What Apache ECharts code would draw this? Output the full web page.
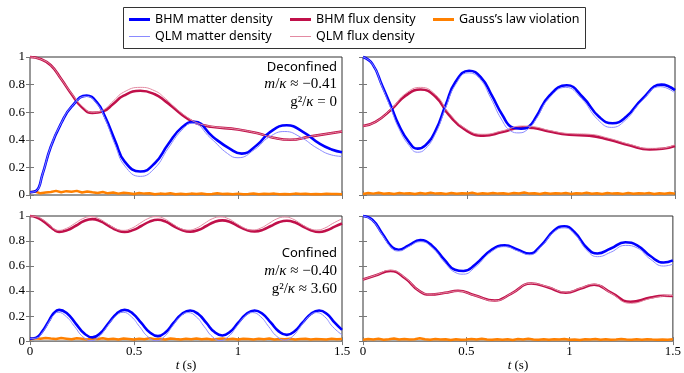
<!DOCTYPE html>
<html>
<head>
<meta charset="utf-8">
<script src="https://cdn.jsdelivr.net/npm/echarts@6/dist/echarts.min.js"></script>
<style>
  html, body { margin: 0; background: #fff; }
  #chart { width: 684px; height: 373px; }
</style>
</head>
<body>
<div id="chart"></div>
<script>
// density curves as [t (s), value] read at extrema and in between
// top left: deconfined, start from vacuum
const tlBhmMatter = [[0, 0.02], [0.03, 0.03], [0.06, 0.15], [0.1, 0.35], [0.15, 0.52], [0.2, 0.64], [0.272, 0.72],
  [0.32, 0.675], [0.36, 0.57], [0.41, 0.39], [0.456, 0.24], [0.53, 0.17], [0.6, 0.23], [0.665, 0.37], [0.73, 0.49],
  [0.79, 0.53], [0.88, 0.42], [0.96, 0.336], [1.018, 0.3], [1.09, 0.36], [1.154, 0.456], [1.234, 0.505],
  [1.314, 0.456], [1.394, 0.37], [1.45, 0.33], [1.5, 0.31]]
const tlQlmMatter = [[0, 0.02], [0.03, 0.03], [0.06, 0.15], [0.1, 0.35], [0.15, 0.52], [0.2, 0.64], [0.27, 0.715],
  [0.32, 0.665], [0.36, 0.555], [0.41, 0.36], [0.456, 0.21], [0.53, 0.135], [0.6, 0.195], [0.665, 0.34], [0.73, 0.47],
  [0.78, 0.52], [0.87, 0.41], [0.95, 0.3], [1.0, 0.27], [1.08, 0.33], [1.15, 0.42], [1.225, 0.46], [1.3, 0.42],
  [1.38, 0.34], [1.45, 0.29], [1.5, 0.28]]
const tlBhmFlux = [[0, 1.0], [0.05, 0.985], [0.1, 0.94], [0.15, 0.84], [0.2, 0.73], [0.25, 0.635], [0.3, 0.595],
  [0.35, 0.605], [0.4, 0.66], [0.45, 0.72], [0.53, 0.755], [0.6, 0.73], [0.65, 0.68], [0.7, 0.62], [0.75, 0.56],
  [0.8, 0.52], [0.87, 0.495], [1.0, 0.475], [1.1, 0.445], [1.17, 0.415], [1.25, 0.4], [1.35, 0.425], [1.5, 0.46]]
const tlQlmFlux = [[0, 1.0], [0.05, 0.985], [0.1, 0.94], [0.15, 0.84], [0.2, 0.735], [0.25, 0.645], [0.3, 0.6],
  [0.35, 0.615], [0.4, 0.68], [0.45, 0.745], [0.53, 0.78], [0.6, 0.755], [0.65, 0.7], [0.7, 0.63], [0.75, 0.57],
  [0.8, 0.525], [0.87, 0.498], [1.0, 0.475], [1.1, 0.445], [1.17, 0.415], [1.25, 0.4], [1.35, 0.425], [1.5, 0.46]]

// top right: deconfined, start from charge-proliferated state
const trBhmMatter = [[0, 1.0], [0.045, 0.95], [0.093, 0.79], [0.133, 0.65], [0.173, 0.505], [0.221, 0.384],
  [0.262, 0.336], [0.3, 0.36], [0.35, 0.47], [0.397, 0.65], [0.445, 0.82], [0.51, 0.9], [0.566, 0.855], [0.62, 0.72],
  [0.67, 0.58], [0.718, 0.49], [0.76, 0.48], [0.8, 0.5], [0.832, 0.565], [0.896, 0.72], [0.98, 0.795],
  [1.056, 0.71], [1.136, 0.565], [1.2, 0.52], [1.264, 0.565], [1.345, 0.7], [1.435, 0.8], [1.5, 0.76]]
const trQlmMatter = [[0, 1.0], [0.045, 0.95], [0.093, 0.78], [0.133, 0.63], [0.173, 0.48], [0.221, 0.36],
  [0.262, 0.31], [0.3, 0.335], [0.35, 0.45], [0.397, 0.63], [0.445, 0.8], [0.505, 0.885], [0.56, 0.845], [0.615, 0.7],
  [0.665, 0.55], [0.71, 0.465], [0.75, 0.45], [0.795, 0.48], [0.83, 0.545], [0.894, 0.7], [0.975, 0.78],
  [1.05, 0.7], [1.13, 0.545], [1.195, 0.49], [1.26, 0.54], [1.34, 0.68], [1.43, 0.785], [1.5, 0.74]]
const trBhmFlux = [[0, 0.5], [0.06, 0.53], [0.14, 0.625], [0.205, 0.72], [0.277, 0.765], [0.35, 0.71], [0.413, 0.58],
  [0.494, 0.47], [0.58, 0.43], [0.67, 0.456], [0.766, 0.49], [0.82, 0.485], [0.896, 0.46], [0.992, 0.437],
  [1.088, 0.43], [1.184, 0.4], [1.28, 0.36], [1.377, 0.33], [1.44, 0.335], [1.5, 0.355]]
const trQlmFlux = [[0, 0.5], [0.06, 0.53], [0.14, 0.63], [0.205, 0.735], [0.277, 0.78], [0.35, 0.725], [0.413, 0.595],
  [0.494, 0.48], [0.58, 0.44], [0.67, 0.465], [0.766, 0.5], [0.82, 0.495], [0.896, 0.468], [0.992, 0.445],
  [1.088, 0.44], [1.184, 0.41], [1.28, 0.368], [1.377, 0.338], [1.44, 0.34], [1.5, 0.365]]

// bottom left: confined, start from vacuum
const blBhmMatter = [[0, 0.02], [0.03, 0.028], [0.06, 0.08], [0.09, 0.16], [0.115, 0.225], [0.14, 0.25],
  [0.18, 0.218], [0.22, 0.14], [0.26, 0.062], [0.3, 0.03], [0.339, 0.064], [0.378, 0.145], [0.4165, 0.219],
  [0.455, 0.25], [0.495, 0.219], [0.535, 0.145], [0.575, 0.071], [0.615, 0.04], [0.652, 0.071], [0.69, 0.145],
  [0.73, 0.216], [0.77, 0.245], [0.809, 0.216], [0.848, 0.145], [0.886, 0.074], [0.925, 0.045], [0.962, 0.074],
  [1.0, 0.145], [1.04, 0.216], [1.08, 0.245], [1.119, 0.216], [1.158, 0.147], [1.196, 0.078], [1.235, 0.05],
  [1.272, 0.078], [1.31, 0.147], [1.35, 0.217], [1.39, 0.245], [1.428, 0.217], [1.465, 0.147], [1.5, 0.09]]
const blQlmMatter = [[0, 0.02], [0.03, 0.024], [0.06, 0.07], [0.09, 0.15], [0.113, 0.205], [0.135, 0.23],
  [0.175, 0.195], [0.215, 0.115], [0.254, 0.035], [0.293, 0.003], [0.3315, 0.035], [0.37, 0.115], [0.409, 0.195],
  [0.448, 0.23], [0.4875, 0.195], [0.527, 0.115], [0.567, 0.035], [0.607, 0.003], [0.645, 0.035], [0.683, 0.115],
  [0.7215, 0.195], [0.76, 0.228], [0.799, 0.195], [0.838, 0.115], [0.8765, 0.036], [0.915, 0.005], [0.954, 0.036],
  [0.993, 0.115], [1.0315, 0.195], [1.07, 0.228], [1.109, 0.195], [1.148, 0.115], [1.1865, 0.038], [1.225, 0.008],
  [1.2625, 0.038], [1.3, 0.115], [1.339, 0.195], [1.378, 0.228], [1.4165, 0.195], [1.455, 0.115], [1.5, 0.05]]
const blBhmFlux = [[0, 1.0], [0.03, 0.99], [0.06, 0.963], [0.09, 0.925], [0.115, 0.89], [0.14, 0.873], [0.18, 0.887],
  [0.22, 0.922], [0.26, 0.96], [0.3, 0.975], [0.339, 0.957], [0.378, 0.922], [0.4165, 0.887], [0.455, 0.872],
  [0.495, 0.887], [0.535, 0.92], [0.575, 0.955], [0.615, 0.97], [0.652, 0.955], [0.69, 0.92], [0.73, 0.888],
  [0.77, 0.875], [0.809, 0.888], [0.848, 0.92], [0.886, 0.952], [0.925, 0.965], [0.962, 0.952], [1.0, 0.92],
  [1.04, 0.889], [1.08, 0.877], [1.119, 0.889], [1.158, 0.92], [1.196, 0.95], [1.235, 0.962], [1.272, 0.95],
  [1.31, 0.918], [1.35, 0.886], [1.39, 0.872], [1.428, 0.886], [1.465, 0.915], [1.5, 0.94]]
const blQlmFlux = [[0, 1.0], [0.03, 0.995], [0.06, 0.972], [0.09, 0.935], [0.113, 0.9], [0.135, 0.885],
  [0.175, 0.901], [0.215, 0.94], [0.254, 0.979], [0.293, 0.995], [0.3315, 0.979], [0.37, 0.94], [0.409, 0.901],
  [0.448, 0.885], [0.4875, 0.901], [0.527, 0.94], [0.567, 0.979], [0.607, 0.995], [0.645, 0.979], [0.683, 0.94],
  [0.7215, 0.902], [0.76, 0.887], [0.799, 0.902], [0.838, 0.94], [0.8765, 0.978], [0.915, 0.993], [0.954, 0.978],
  [0.993, 0.94], [1.0315, 0.903], [1.07, 0.888], [1.109, 0.903], [1.148, 0.94], [1.1865, 0.977], [1.225, 0.992],
  [1.2625, 0.977], [1.3, 0.94], [1.339, 0.903], [1.378, 0.888], [1.4165, 0.903], [1.455, 0.94], [1.5, 0.978]]

// bottom right: confined, start from charge-proliferated state
const brBhmMatter = [[0, 1.0], [0.045, 0.97], [0.093, 0.86], [0.141, 0.75], [0.173, 0.73], [0.221, 0.765],
  [0.277, 0.807], [0.333, 0.765], [0.397, 0.645], [0.445, 0.57], [0.486, 0.56], [0.542, 0.61], [0.622, 0.73],
  [0.686, 0.765], [0.75, 0.73], [0.806, 0.7], [0.862, 0.765], [0.926, 0.886], [0.974, 0.918], [1.022, 0.874],
  [1.087, 0.74], [1.135, 0.7], [1.199, 0.74], [1.27, 0.79], [1.327, 0.766], [1.391, 0.68], [1.455, 0.628], [1.5, 0.645]]
const brQlmMatter = [[0, 1.0], [0.045, 0.965], [0.093, 0.85], [0.141, 0.74], [0.173, 0.72], [0.221, 0.755],
  [0.277, 0.795], [0.333, 0.75], [0.397, 0.625], [0.445, 0.55], [0.486, 0.535], [0.542, 0.59], [0.622, 0.715],
  [0.686, 0.755], [0.75, 0.72], [0.806, 0.69], [0.862, 0.755], [0.926, 0.875], [0.974, 0.905], [1.022, 0.86],
  [1.087, 0.72], [1.135, 0.675], [1.199, 0.71], [1.27, 0.765], [1.327, 0.745], [1.391, 0.655], [1.455, 0.6], [1.5, 0.615]]
const brBhmFlux = [[0, 0.493], [0.06, 0.524], [0.133, 0.56], [0.205, 0.5], [0.27, 0.403], [0.325, 0.372],
  [0.397, 0.386], [0.46, 0.403], [0.54, 0.367], [0.638, 0.324], [0.718, 0.38], [0.814, 0.46], [0.894, 0.43],
  [0.982, 0.386], [1.054, 0.42], [1.119, 0.45], [1.199, 0.39], [1.295, 0.314], [1.391, 0.348], [1.455, 0.362], [1.5, 0.36]]
const brQlmFlux = [[0, 0.493], [0.06, 0.526], [0.133, 0.567], [0.205, 0.505], [0.27, 0.405], [0.325, 0.375],
  [0.397, 0.386], [0.46, 0.4], [0.54, 0.365], [0.638, 0.322], [0.718, 0.38], [0.814, 0.462], [0.894, 0.435],
  [0.982, 0.392], [1.054, 0.425], [1.119, 0.455], [1.199, 0.385], [1.295, 0.302], [1.391, 0.34], [1.455, 0.36], [1.5, 0.365]]

// Gauss's law violation on a finer grid (noisy, close to zero)
const gaussTime = [0, 0.025, 0.05, 0.075, 0.1, 0.125, 0.15, 0.175, 0.2, 0.225, 0.25, 0.275, 0.3, 0.325,
  0.35, 0.375, 0.4, 0.425, 0.45, 0.475, 0.5, 0.525, 0.55, 0.575, 0.6, 0.625, 0.65, 0.675, 0.7, 0.725,
  0.75, 0.775, 0.8, 0.825, 0.85, 0.875, 0.9, 0.925, 0.95, 0.975, 1, 1.025, 1.05, 1.075, 1.1, 1.125,
  1.15, 1.175, 1.2, 1.225, 1.25, 1.275, 1.3, 1.325, 1.35, 1.375, 1.4, 1.425, 1.45, 1.475, 1.5]
const tlGauss = [0.020, 0.025, 0.012, 0.018, 0.022, 0.030, 0.020, 0.028, 0.024, 0.030,
  0.018, 0.026, 0.020, 0.015, 0.022, 0.012, 0.018, 0.010, 0.016, 0.012,
  0.008, 0.014, 0.010, 0.012, 0.006, 0.010, 0.008, 0.012, 0.006, 0.009,
  0.005, 0.010, 0.007, 0.011, 0.006, 0.008, 0.012, 0.007, 0.009, 0.005,
  0.010, 0.006, 0.008, 0.011, 0.006, 0.009, 0.007, 0.010, 0.005, 0.008,
  0.006, 0.010, 0.007, 0.009, 0.005, 0.008, 0.006, 0.009, 0.007, 0.008, 0.006]
const trGauss = [0.008, 0.014, 0.010, 0.016, 0.009, 0.013, 0.008, 0.015, 0.010, 0.012,
  0.008, 0.014, 0.009, 0.016, 0.010, 0.012, 0.008, 0.015, 0.009, 0.013,
  0.010, 0.016, 0.008, 0.012, 0.009, 0.014, 0.010, 0.013, 0.008, 0.015,
  0.011, 0.018, 0.010, 0.013, 0.008, 0.014, 0.009, 0.012, 0.010, 0.015,
  0.008, 0.013, 0.010, 0.016, 0.009, 0.012, 0.008, 0.014, 0.010, 0.013,
  0.008, 0.015, 0.009, 0.012, 0.010, 0.014, 0.008, 0.013, 0.009, 0.015, 0.010]
const blGauss = [0.015, 0.022, 0.018, 0.025, 0.020, 0.016, 0.024, 0.019, 0.014, 0.022,
  0.018, 0.012, 0.020, 0.016, 0.023, 0.015, 0.019, 0.013, 0.021, 0.017,
  0.012, 0.019, 0.015, 0.022, 0.014, 0.018, 0.012, 0.020, 0.016, 0.013,
  0.019, 0.015, 0.021, 0.014, 0.018, 0.012, 0.017, 0.020, 0.014, 0.018,
  0.013, 0.019, 0.016, 0.012, 0.018, 0.015, 0.020, 0.013, 0.017, 0.014,
  0.019, 0.012, 0.016, 0.018, 0.013, 0.017, 0.015, 0.012, 0.018, 0.014, 0.016]
const brGauss = [0.010, 0.016, 0.012, 0.018, 0.011, 0.014, 0.020, 0.013, 0.017, 0.012,
  0.015, 0.022, 0.014, 0.010, 0.016, 0.012, 0.014, 0.009, 0.015, 0.011,
  0.013, 0.017, 0.012, 0.019, 0.013, 0.010, 0.015, 0.011, 0.014, 0.009,
  0.016, 0.012, 0.018, 0.013, 0.011, 0.015, 0.010, 0.014, 0.012, 0.016,
  0.011, 0.013, 0.009, 0.015, 0.012, 0.017, 0.010, 0.014, 0.011, 0.013,
  0.016, 0.012, 0.010, 0.014, 0.011, 0.015, 0.012, 0.010, 0.013, 0.011, 0.014]

const xTicks = [0, 0.5, 1, 1.5]
const yTicks = [0, 0.2, 0.4, 0.6, 0.8, 1]

const NAMES = {
  bm: 'BHM matter density',
  bf: 'BHM flux density',
  gs: 'Gauss\u2019s law violation',
  qm: 'QLM matter density',
  qf: 'QLM flux density',
}
const COLORS = {
  bm: '#0000ff',
  bf: '#c0104a',
  gs: '#ff8000',
  qm: '#8a8aff',
  qf: '#e38aa2',
}

const panels = [
  { left: 30, top: 57, showX: false, showY: true,
    bm: tlBhmMatter, qm: tlQlmMatter, bf: tlBhmFlux, qf: tlQlmFlux, gs: tlGauss },
  { left: 363, top: 57, showX: false, showY: false,
    bm: trBhmMatter, qm: trQlmMatter, bf: trBhmFlux, qf: trQlmFlux, gs: trGauss },
  { left: 30, top: 216, showX: true, showY: true,
    bm: blBhmMatter, qm: blQlmMatter, bf: blBhmFlux, qf: blQlmFlux, gs: blGauss },
  { left: 363, top: 216, showX: true, showY: false,
    bm: brBhmMatter, qm: brQlmMatter, bf: brBhmFlux, qf: brQlmFlux, gs: brGauss },
]

const serif = '"Liberation Serif", "DejaVu Serif", serif'
const sans = '"Noto Sans", "Open Sans", sans-serif'
const tick = { inside: true, length: 4, lineStyle: { color: '#777' } }

const grids = [], xAxes = [], yAxes = [], series = []
panels.forEach((p, g) => {
  grids.push({ left: p.left, top: p.top, width: 312, height: 138, show: true,
    borderColor: '#333', borderWidth: 1, backgroundColor: 'transparent' })
  // bottom axis + mirrored top axis (ticks only)
  for (const pos of ['bottom', 'top']) {
    const main = pos === 'bottom'
    xAxes.push({
      type: 'value', gridIndex: g, position: pos,
      min: xTicks[0], max: xTicks[xTicks.length - 1], interval: 0.5,
      axisLine: { show: false }, axisTick: tick, splitLine: { show: false },
      axisLabel: { show: main && p.showX, margin: 4, fontFamily: serif, fontSize: 13, color: '#000' },
      name: main && p.showX ? '{i|t} (s)' : '',
      nameLocation: 'middle', nameGap: 4,
      nameTextStyle: { fontFamily: serif, fontSize: 13, color: '#000', verticalAlign: 'top',
        rich: { i: { fontFamily: serif, fontSize: 13, fontStyle: 'italic', color: '#000' } } },
    })
  }
  // left axis + mirrored right axis (ticks only)
  for (const pos of ['left', 'right']) {
    const main = pos === 'left'
    yAxes.push({
      type: 'value', gridIndex: g, position: pos,
      min: yTicks[0], max: yTicks[yTicks.length - 1], interval: 0.2,
      axisLine: { show: false }, axisTick: tick, splitLine: { show: false },
      axisLabel: { show: main && p.showY, margin: 5, fontFamily: serif, fontSize: 13, color: '#000' },
    })
  }
  const line = (key, data, width, z, smooth) => ({
    name: NAMES[key], type: 'line', xAxisIndex: 2 * g, yAxisIndex: 2 * g,
    data, smooth, symbol: 'none', clip: false, z,
    lineStyle: { color: COLORS[key], width }, itemStyle: { color: COLORS[key] },
  })
  series.push(line('gs', gaussTime.map((t, i) => [t, p.gs[i]]), 2.5, 1, false))
  series.push(line('bf', p.bf, 2.6, 2, 0.5))
  series.push(line('bm', p.bm, 2.6, 3, 0.5))
  series.push(line('qf', p.qf, 1, 4, 0.5))
  series.push(line('qm', p.qm, 1, 5, 0.5))
})

const legendItem = (key, left, top, h) => ({
  data: [NAMES[key]], left, top, icon: 'rect', itemWidth: 21, itemHeight: h,
  padding: 0, selectedMode: false,
  textStyle: { fontFamily: sans, fontSize: 12.5, color: '#000' },
})

const mathText = (text, x, y) => ({
  type: 'text', x, y,
  style: { text, align: 'right', verticalAlign: 'middle', fill: '#000',
    font: '15px ' + serif,
    rich: { i: { fontStyle: 'italic', fontFamily: serif, fontSize: 15, fill: '#000' } } },
})
const plainText = (text, x, y) => ({
  type: 'text', x, y,
  style: { text, align: 'right', verticalAlign: 'middle', fill: '#000', font: '13px ' + sans },
})

const chart = echarts.init(document.getElementById('chart'), null, { renderer: 'canvas' })
chart.setOption({
  animation: false,
  grid: grids,
  xAxis: xAxes,
  yAxis: yAxes,
  legend: [
    legendItem('bm', 129, 13, 3),
    legendItem('bf', 290, 13, 3),
    legendItem('gs', 433, 13, 3),
    legendItem('qm', 129, 30, 1),
    legendItem('qf', 290, 30, 1),
  ],
  graphic: [
    { type: 'rect', shape: { x: 123.5, y: 7.5, width: 462, height: 41 },
      style: { fill: 'none', stroke: '#333', lineWidth: 1 } },
    plainText('Deconfined', 337, 67),
    mathText('{i|m}/{i|\u03ba} \u2248 \u22120.41', 337, 84),
    mathText('g\u00b2/{i|\u03ba} = 0', 337, 102),
    plainText('Confined', 337, 253),
    mathText('{i|m}/{i|\u03ba} \u2248 \u22120.40', 337, 271),
    mathText('g\u00b2/{i|\u03ba} \u2248 3.60', 337, 289),
  ],
  series,
})
</script>
</body>
</html>
